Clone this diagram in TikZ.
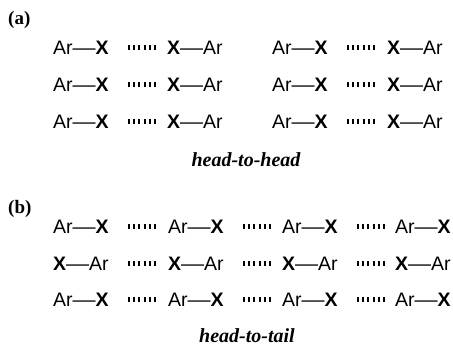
\documentclass[tikz,border=0pt]{standalone}
\usepackage{fontspec}
\usepackage{graphicx}
\setmainfont{Liberation Serif}
\setsansfont{Liberation Sans}
% aryl halide, bond drawn as a slightly stretched em dash
\newcommand\bondline{\scalebox{1.18}[1]{—}}
\newcommand\ArX{Ar\bondline\textbf{X}}
\newcommand\XAr{\textbf{X}\bondline Ar}
\begin{document}
\begin{tikzpicture}[x=1pt,y=-1pt,
  mol/.style={font=\sffamily\fontsize{19.5}{20}\selectfont, inner sep=0pt,
              text height=15pt, text depth=0pt, anchor=base west},
  hbond/.style={line width=5pt, dash pattern=on 2pt off 3.2pt,
                shorten <=19pt, shorten >=10pt},
  tag/.style={font=\bfseries\fontsize{19}{19}\selectfont, inner sep=0pt, anchor=base west},
  caption/.style={font=\bfseries\itshape\fontsize{20}{20}\selectfont, inner sep=0pt, anchor=base}]
\useasboundingbox (0,0) rectangle (453,347);

% ---- (a) head-to-head pairs ----
\node[tag] (ta) at (8,24.5) {(a)};
\foreach \r/\y in {1/55, 2/92, 3/129} {
  \node[mol] (a\r1) at (53,\y)  {\ArX};
  \node[mol] (a\r2) at (167,\y) {\XAr};
  \node[mol] (a\r3) at (272,\y) {\ArX};
  \node[mol] (a\r4) at (387,\y) {\XAr};
  \draw[hbond] (a\r1) -- (a\r2);
  \draw[hbond] (a\r3) -- (a\r4);
}
\node[caption] (capa) at (246,167) {head-to-head};

% ---- (b) head-to-tail chains ----
\node[tag] (tb) at (8,214) {(b)};
\foreach \r/\y in {1/234, 3/307} {
  \node[mol] (b\r1) at (53,\y)  {\ArX};
  \node[mol] (b\r2) at (168,\y) {\ArX};
  \node[mol] (b\r3) at (282,\y) {\ArX};
  \node[mol] (b\r4) at (395,\y) {\ArX};
}
\node[mol] (b21) at (53,271)  {\XAr};
\node[mol] (b22) at (168,271) {\XAr};
\node[mol] (b23) at (282,271) {\XAr};
\node[mol] (b24) at (395,271) {\XAr};
\foreach \r in {1,2,3} {
  \draw[hbond] (b\r1) -- (b\r2);
  \draw[hbond] (b\r2) -- (b\r3);
  \draw[hbond] (b\r3) -- (b\r4);
}
\node[caption] (capb) at (247,343) {head-to-tail};
\end{tikzpicture}
\end{document}
